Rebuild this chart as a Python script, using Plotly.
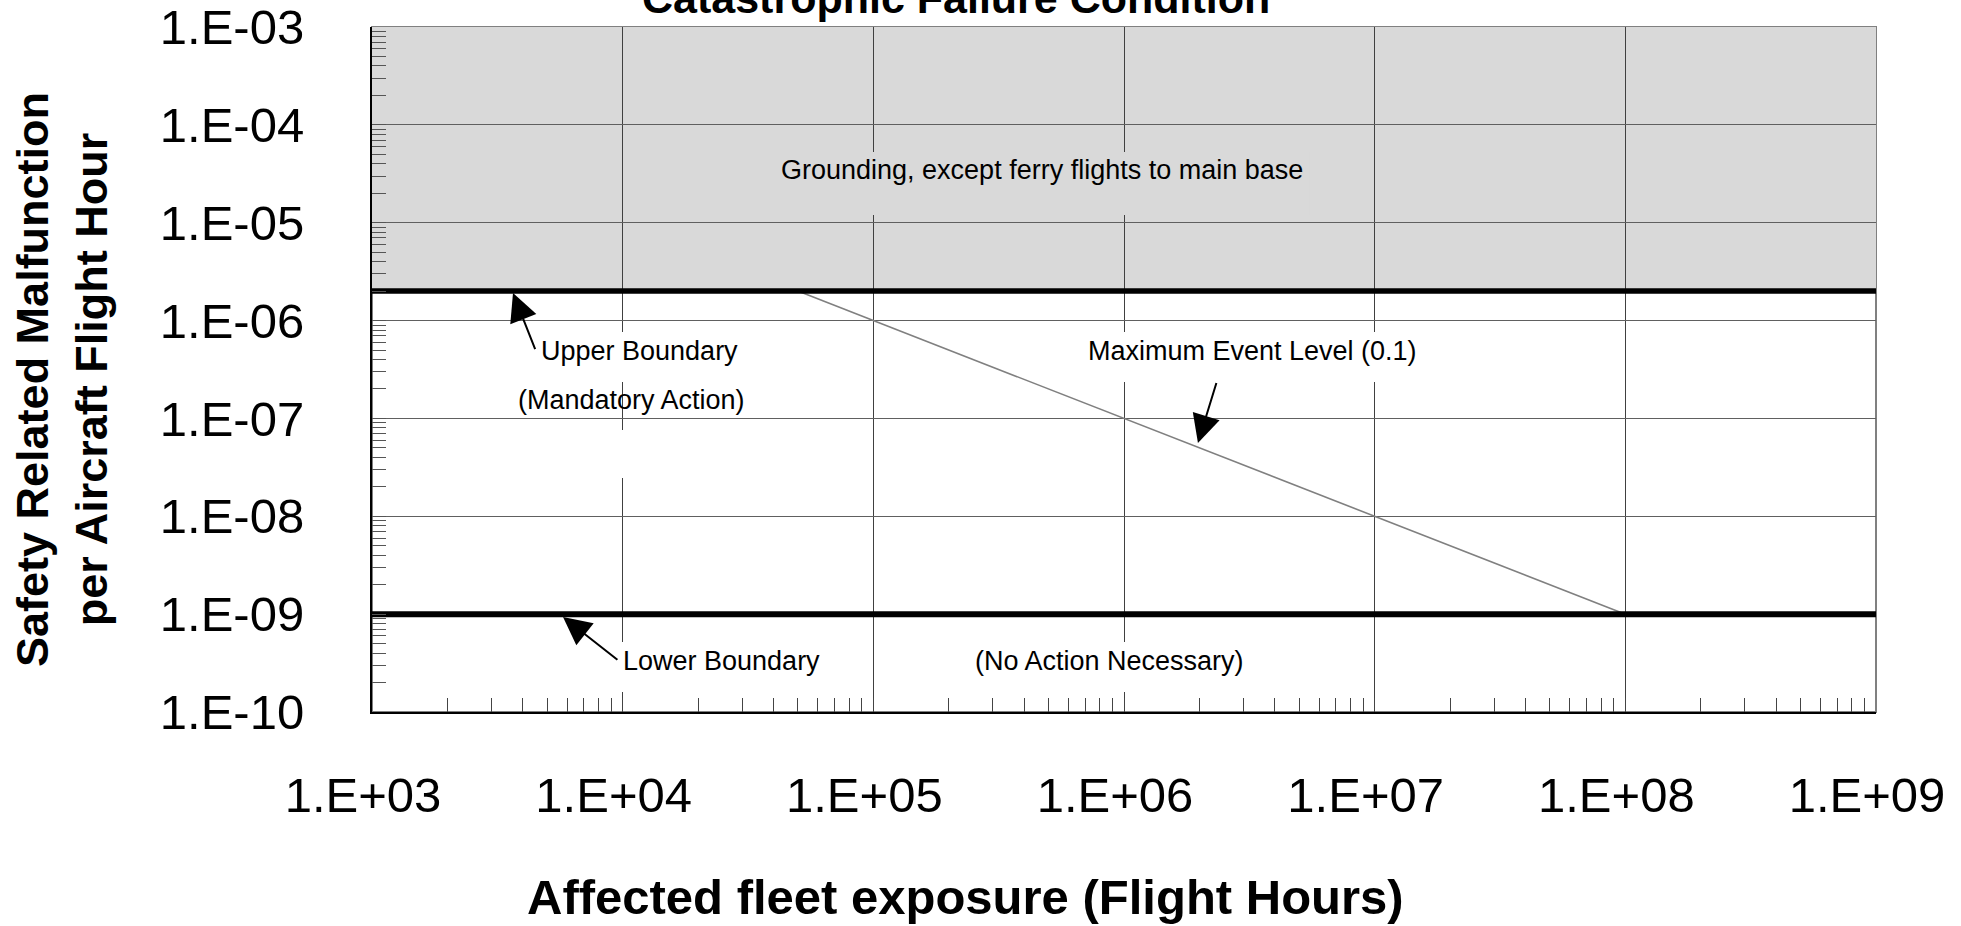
import plotly.graph_objects as go

# ---------------- data ----------------
x_tick_vals = [1e3, 1e4, 1e5, 1e6, 1e7, 1e8, 1e9]
x_tick_text = ["1.E+03", "1.E+04", "1.E+05", "1.E+06", "1.E+07", "1.E+08", "1.E+09"]
y_tick_vals = [1e-10, 1e-9, 1e-8, 1e-7, 1e-6, 1e-5, 1e-4, 1e-3]
y_tick_text = ["1.E-10", "1.E-09", "1.E-08", "1.E-07", "1.E-06", "1.E-05", "1.E-04", "1.E-03"]

boundary_x = [1e3, 1e9]
upper_boundary = 2e-6      # Mandatory action
lower_boundary = 1e-9      # No action necessary
grounding_top = 1e-3

event_x = [5e4, 1e8]       # Maximum event level (0.1 events)
event_y = [2e-6, 1e-9]

FONT = "Liberation Sans, Arial, sans-serif"

fig = go.Figure()
fig.add_trace(go.Scatter(x=event_x, y=event_y, mode="lines",
                         line=dict(color="#808080", width=1.6),
                         hoverinfo="skip", showlegend=False))
fig.add_trace(go.Scatter(x=boundary_x, y=[upper_boundary, upper_boundary], mode="lines",
                         line=dict(color="black", width=5.5),
                         hoverinfo="skip", showlegend=False))
fig.add_trace(go.Scatter(x=boundary_x, y=[lower_boundary, lower_boundary], mode="lines",
                         line=dict(color="black", width=6),
                         hoverinfo="skip", showlegend=False))

shapes = [
    dict(type="rect", xref="x", yref="y", x0=boundary_x[0], x1=boundary_x[1],
         y0=upper_boundary, y1=grounding_top, fillcolor="#d9d9d9",
         line=dict(width=0), layer="below"),
    dict(type="rect", xref="paper", yref="paper", x0=0, x1=1, y0=0, y1=1,
         fillcolor="rgba(0,0,0,0)", line=dict(color="#808080", width=2), layer="below"),
]
# text boxes (opaque backgrounds interrupting the grid, as in the original)
boxes = [
    (4.06e4, 5.52e6, 1.2e-5, 5.28e-5, "#d9d9d9"),
    (4.47e3, 3.08e4, 2.36e-7, 7.64e-7, "white"),
    (4.47e3, 3.08e4, 2.46e-8, 7.62e-8, "white"),
    (6.98e5, 1.52e7, 2.36e-7, 7.64e-7, "white"),
    (8.13e3, 7.71e4, 1.6e-10, 5.19e-10, "white"),
    (2.43e5, 3.18e6, 1.6e-10, 5.19e-10, "white"),
]
for x0, x1, y0, y1, c in boxes:
    shapes.append(dict(type="rect", xref="x", yref="y", x0=x0, x1=x1, y0=y0, y1=y1,
                       fillcolor=c, line=dict(width=0), layer="above"))

# labels: (text, log10 x, log10 y)
labels = [
    ("Grounding, except ferry flights to main base", 5.673, -4.461),
    ("Upper Boundary", 4.069, -6.311),
    ("(Mandatory Action)", 4.037, -6.812),
    ("Maximum Event Level (0.1)", 6.511, -6.311),
    ("Lower Boundary", 4.396, -9.479),
    ("(No Action Necessary)", 5.944, -9.479),
]
annotations = []
for t, lx, ly in labels:
    annotations.append(dict(text=t, x=lx, y=ly, xref="x", yref="y", showarrow=False,
                            xanchor="center", yanchor="middle",
                            font=dict(family=FONT, size=27, color="black")))

# arrows: (tip lx, tip ly, tail lx, tail ly)
arrows = [
    (3.5625, -5.719, 3.654, -6.311),
    (6.295, -7.251, 6.371, -6.618),
    (3.762, -9.029, 3.985, -9.479),
]
for hx, hy, tx, ty in arrows:
    annotations.append(dict(text=" ", x=hx, y=hy, ax=tx, ay=ty, xref="x", yref="y",
                            axref="x", ayref="y", showarrow=True, arrowhead=2,
                            arrowsize=2.8, arrowwidth=2, arrowcolor="black",
                            standoff=0, startstandoff=0, font=dict(size=1)))

annotations.append(dict(text="<b>Catastrophic Failure Condition</b>", xref="paper", yref="paper",
                        x=0.3883, y=1.004, xanchor="center", yanchor="bottom", showarrow=False,
                        font=dict(family=FONT, size=43, color="black")))
annotations.append(dict(text="<b>Safety Related Malfunction<br>per Aircraft Flight Hour</b>",
                        xref="paper", yref="paper", x=-0.2061, y=0.4847, textangle=-90,
                        xanchor="center", yanchor="middle", showarrow=False,
                        font=dict(family=FONT, size=45, color="black")))
annotations.append(dict(text="<b>Affected fleet exposure (Flight Hours)</b>",
                        xref="paper", yref="paper", x=0.3943, y=-0.270,
                        xanchor="center", yanchor="middle", showarrow=False,
                        font=dict(family=FONT, size=49, color="black")))

fig.update_layout(
    width=1961, height=926,
    margin=dict(l=372, r=85, t=27, b=214, autoexpand=False),
    paper_bgcolor="white", plot_bgcolor="white",
    showlegend=False,
    shapes=shapes, annotations=annotations,
    font=dict(family=FONT, color="black"),
)
fig.update_xaxes(type="log", range=[3, 9], tickmode="array", tickvals=x_tick_vals,
                 ticktext=x_tick_text, tickfont=dict(family=FONT, size=49, color="black"),
                 showgrid=True, gridcolor="#404040", gridwidth=1, automargin=False,
                 showline=True, linecolor="black", linewidth=2,
                 ticks="inside", ticklen=14, tickcolor="#444",
                 ticklabelstandoff=39, ticklabelshift=-9,
                 minor=dict(ticks="inside", ticklen=14, tickcolor="#444", dtick="D1", showgrid=False))
fig.update_yaxes(type="log", range=[-10, -3], tickmode="array", tickvals=y_tick_vals,
                 ticktext=y_tick_text, tickfont=dict(family=FONT, size=49, color="black"),
                 showgrid=True, gridcolor="#606060", gridwidth=1.2, automargin=False,
                 showline=True, linecolor="black", linewidth=2,
                 ticks="inside", ticklen=14, tickcolor="#555",
                 ticklabelstandoff=56,
                 minor=dict(ticks="inside", ticklen=14, tickcolor="#555", dtick="D1", showgrid=False))

fig.write_html("out.html", config={"displayModeBar": False},
               post_script="document.body.style.margin='0';document.body.style.overflow='hidden';")
